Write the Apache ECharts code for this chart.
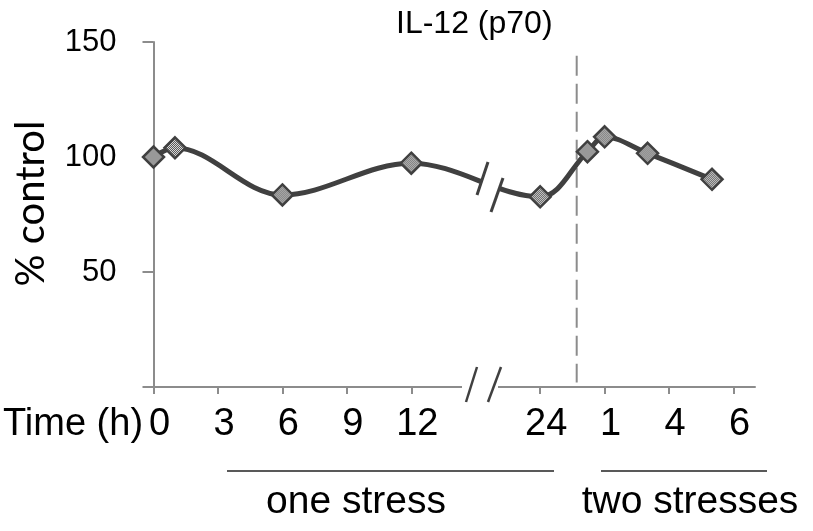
<!DOCTYPE html>
<html><head><meta charset="utf-8">
<script src="https://cdn.jsdelivr.net/npm/echarts@6/dist/echarts.min.js"></script>
<style>html,body{margin:0;padding:0;background:#fff}#c{width:813px;height:531px}</style>
</head><body><div id="c"></div>
<script>
// ---- data ----
const titleText = 'IL-12 (p70)';
const yAxisName = '% control';
const xAxisName = 'Time (h)';
const xTickLabels = ['0', '3', '6', '9', '12', '', '24', '1', '4', '6'];
const timeAxisValues = [0, 1, 6, 12, 18, 20.2, 21, 23, 26];
const controlPct = [100, 104, 83.5, 97.3, 82.7, 102.3, 108.8, 101.6, 90.3];
const stressBoundary = 19.7;
const boundaryRange = [144, 2];
const groupLabels = ['one stress', 'two stresses'];

// ---- chart ----
const FONT = '"Liberation Sans", Arial, sans-serif';
const pc = document.createElement('canvas'); pc.width = 2; pc.height = 2;
const g = pc.getContext('2d');
g.fillStyle = '#ffffff'; g.fillRect(0, 0, 2, 2);
g.fillStyle = '#333333'; g.fillRect(0, 0, 1, 1); g.fillRect(1, 1, 1, 1);
const SYM = 21;
const checker = { image: pc, repeat: 'repeat', scaleX: 2 / SYM, scaleY: 2 / SYM };

const tickValues = xTickLabels.map((_, i) => i * 3);
const chart = echarts.init(document.getElementById('c'));
const axisGray = '#8c8c8c';
chart.setOption({
  animation: false,
  backgroundColor: '#fff',
  title: {
    text: titleText, left: 396, top: 8, padding: 0,
    textStyle: { fontFamily: FONT, fontSize: 32, fontWeight: 'normal', color: '#000' }
  },
  grid: { left: 147, right: 58, top: 42, bottom: 144 },
  xAxis: {
    type: 'value', min: 0, max: 28, interval: 3,
    name: xAxisName, nameLocation: 'start', nameGap: 2,
    nameTextStyle: { fontFamily: FONT, fontSize: 38, color: '#000', verticalAlign: 'top', padding: [19, 0, 0, 0] },
    axisLine: { show: true, lineStyle: { color: axisGray, width: 2 } },
    axisTick: { show: true, length: 7, lineStyle: { color: axisGray, width: 2 }, customValues: tickValues },
    axisLabel: {
      customValues: tickValues, margin: 19, fontFamily: FONT, fontSize: 38, color: '#000',
      padding: [0, 0, 0, 12],
      formatter: v => xTickLabels[Math.round(v / 3)] || ''
    },
    splitLine: { show: false }
  },
  yAxis: {
    type: 'value', min: 0, max: 150, interval: 50,
    name: yAxisName, nameLocation: 'middle', nameGap: 102,
    nameTextStyle: { fontFamily: 'Lato, "DejaVu Sans", sans-serif', fontSize: 40, color: '#000', padding: [0, 0, 0, 22] },
    axisLine: { show: true, lineStyle: { color: axisGray, width: 2 } },
    axisTick: { show: true, length: 11, lineStyle: { color: axisGray, width: 2 } },
    axisLabel: { margin: 37, fontFamily: FONT, fontSize: 31, color: '#000', formatter: v => v === 0 ? '' : String(v) },
    splitLine: { show: false }
  },
  series: [
    {
      type: 'line', z: 1, silent: true, symbol: 'none',
      data: boundaryRange.map(y => [stressBoundary, y]),
      lineStyle: { color: axisGray, width: 2, type: [20, 8] }
    },
    {
      type: 'line', z: 3, smooth: 0.35,
      data: timeAxisValues.map((t, i) => [t, controlPct[i]]),
      lineStyle: { color: '#404040', width: 5 },
      symbol: 'diamond', symbolSize: SYM,
      itemStyle: { color: checker, borderColor: '#404040', borderWidth: 2.5 }
    }
  ],
  graphic: [
    // break on the curve
    { type: 'polygon', z: 100, shape: { points: [[487, 165], [507, 165], [494, 205], [473.6, 205]] }, style: { fill: '#fff' } },
    { type: 'line', z: 101, shape: { x1: 488, y1: 162, x2: 477, y2: 195 }, style: { stroke: '#404040', lineWidth: 3 } },
    { type: 'line', z: 101, shape: { x1: 503, y1: 178, x2: 491, y2: 212 }, style: { stroke: '#404040', lineWidth: 3 } },
    // break on the axis
    { type: 'rect', z: 100, shape: { x: 462, y: 380, width: 36, height: 16 }, style: { fill: '#fff' } },
    { type: 'line', z: 101, shape: { x1: 477, y1: 367, x2: 466, y2: 402 }, style: { stroke: '#404040', lineWidth: 2.5 } },
    { type: 'line', z: 101, shape: { x1: 501, y1: 367, x2: 488, y2: 402 }, style: { stroke: '#404040', lineWidth: 2.5 } },
    // group brackets
    { type: 'line', z: 100, shape: { x1: 227, y1: 471, x2: 554, y2: 471 }, style: { stroke: '#595959', lineWidth: 2 } },
    { type: 'line', z: 100, shape: { x1: 601, y1: 471, x2: 767, y2: 471 }, style: { stroke: '#595959', lineWidth: 2 } },
    { type: 'text', z: 100, x: 356, y: 522, style: { text: groupLabels[0], font: '39px ' + FONT, fill: '#000', textAlign: 'center', textVerticalAlign: 'bottom' } },
    { type: 'text', z: 100, x: 690, y: 522, style: { text: groupLabels[1], font: '39px ' + FONT, fill: '#000', textAlign: 'center', textVerticalAlign: 'bottom' } }
  ]
});
</script></body></html>
